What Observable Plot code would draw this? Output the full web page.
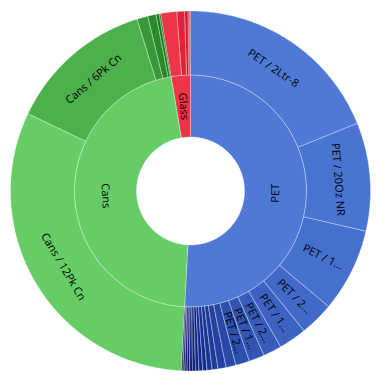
<!DOCTYPE html>
<html>
<head>
<meta charset="utf-8">
<script src="https://cdn.jsdelivr.net/npm/d3@7"></script>
<script src="https://cdn.jsdelivr.net/npm/@observablehq/plot@0.6"></script>
<style>
  html, body { margin: 0; padding: 0; background: #fff; }
  #chart { width: 378px; height: 375px; }
</style>
</head>
<body>
<div id="chart"></div>
<script>
// ---- data ----
const parentNames = ["PET", "Cans", "Glass"];

const petLabels = ["PET / 2Ltr-8", "PET / 20Oz NR", "PET / 1...", "PET / 2...", "PET / 1...", "PET / 2...", "PET / 1...", "PET / 2...",
  "", "", "", "", "", "", "", "", "", "", "", "", ""];
const petValues = [68, 35, 27, 11, 9, 6, 5, 4.5, 3.2, 2.6, 1.9, 1.6, 1.4, 1.2, 1.1, 1.0, 0.9, 0.8, 0.7, 0.6, 0.5];

const cansLabels = ["Cans / 12Pk Cn", "Cans / 6Pk Cn", "", "", "", ""];
const cansValues = [112.5, 47.3, 3.5, 2.7, 1.0, 0.5];

const glassLabels = ["", "", "", "", ""];
const glassValues = [5.2, 2.5, 1.1, 0.5, 0.2];

// ---- palette ----
const parentColors = ["#5079d6", "#66cc66", "#ef3448"];
const petColors = ["#5079d6", "#4a74d2", "#4670cd", "#4169c8", "#3c63c2", "#375cbb", "#3255b4", "#2d4fae",
  "#2848a8", "#2342a2", "#1e3c9c", "#1a3696", "#163090", "#132b8a", "#102684", "#0e227e", "#0d1e79",
  "#0c1b74", "#0d196f", "#15186c", "#1f1e70"];
const cansColors = ["#66cc66", "#4cb04c", "#389838", "#2a8a2a", "#1b7a1b", "#0f6b0f"];
const glassColors = ["#ef3448", "#e2223c", "#d41a32", "#c01228", "#a80c20"];

// ---- layout ----
const W = 378, H = 375;
const CX = 190, CY = 190.5;
const R0 = 54, R1 = 116, R2 = 180;

const children = [
  {labels: petLabels, values: petValues, colors: petColors},
  {labels: cansLabels, values: cansValues, colors: cansColors},
  {labels: glassLabels, values: glassValues, colors: glassColors}
];

const total = d3.sum(children, c => d3.sum(c.values));
const k = 360 / total;

const slices = [];
let a = 0;
parentNames.forEach((name, i) => {
  const c = children[i];
  const sum = d3.sum(c.values);
  slices.push({id: "p" + i, label: name, a0: a, a1: a + sum * k, r0: R0, r1: R1, color: parentColors[i]});
  let b = a;
  c.values.forEach((v, j) => {
    slices.push({id: "c" + i + "_" + j, label: c.labels[j], a0: b, a1: b + v * k, r0: R1, r1: R2, color: c.colors[j]});
    b += v * k;
  });
  a += sum * k;
});

const rad = d => d * Math.PI / 180;
const pts = [];
for (const s of slices) {
  const n = Math.max(2, Math.ceil((s.a1 - s.a0) * 2));
  for (let i = 0; i <= n; i++) {
    const t = s.a0 + (s.a1 - s.a0) * i / n;
    pts.push({id: s.id, color: s.color, x: s.r1 * Math.sin(rad(t)), y: -s.r1 * Math.cos(rad(t))});
  }
  for (let i = n; i >= 0; i--) {
    const t = s.a0 + (s.a1 - s.a0) * i / n;
    pts.push({id: s.id, color: s.color, x: s.r0 * Math.sin(rad(t)), y: -s.r0 * Math.cos(rad(t))});
  }
}

function norm(r) {
  r = ((r + 180) % 360 + 360) % 360 - 180;
  if (r > 90) r -= 180;
  if (r < -90) r += 180;
  return r;
}

const labels = slices.filter(s => s.label).map(s => {
  const m = (s.a0 + s.a1) / 2;
  const rm = (s.r0 + s.r1) / 2;
  const tangential = (s.a1 - s.a0) >= 30;
  return {
    text: s.label,
    x: rm * Math.sin(rad(m)),
    y: -rm * Math.cos(rad(m)),
    rotate: norm(tangential ? m : m - 90)
  };
});

const chart = Plot.plot({
  width: W,
  height: H,
  margin: 0,
  x: {domain: [-CX, W - CX], range: [0, W], axis: null},
  y: {domain: [-CY, H - CY], range: [0, H], axis: null},
  color: {type: "identity"},
  style: {fontFamily: "'Open Sans', sans-serif", background: "#fff"},
  marks: [
    Plot.line(pts, {x: "x", y: "y", z: "id", fill: "color", stroke: "#ffffff", strokeWidth: 0.8, strokeOpacity: 0.4, curve: "linear-closed"}),
    Plot.text(labels, {x: "x", y: "y", text: "text", rotate: "rotate", fontSize: 11, fill: "#000", textAnchor: "middle", lineAnchor: "middle"})
  ]
});
document.getElementById("chart").appendChild(chart);
</script>
</body>
</html>
